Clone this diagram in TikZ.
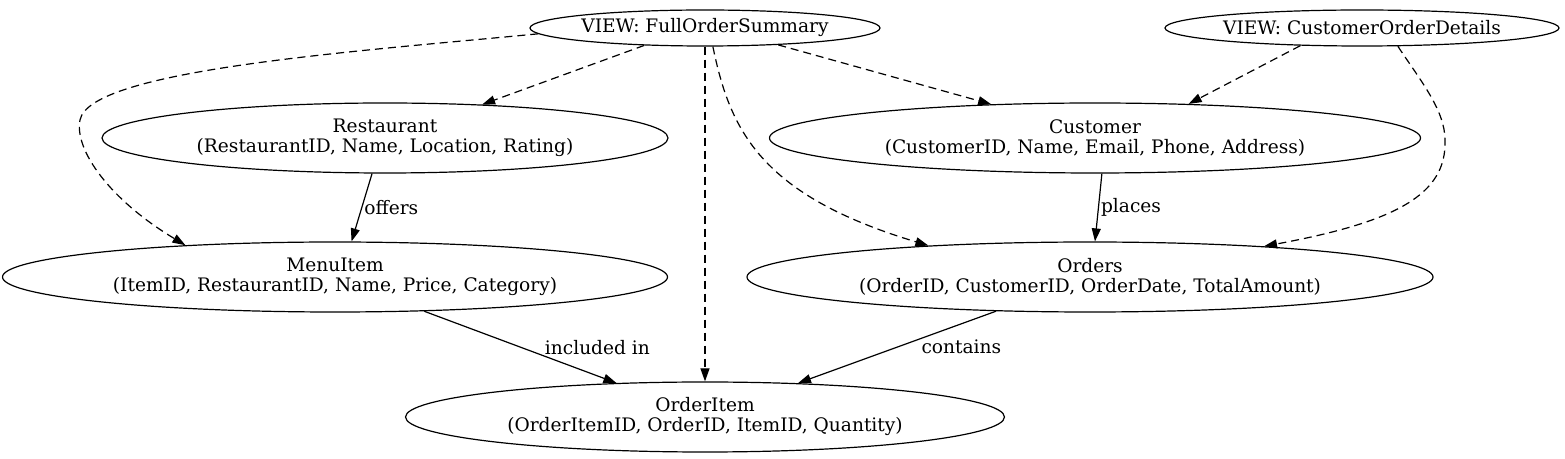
\documentclass[tikz,border=0pt]{standalone}
\usepackage{fontspec}
\setmainfont{DejaVu Serif}
\usetikzlibrary{shapes.geometric,arrows.meta}

\begin{document}
\begin{tikzpicture}[x=0.5pt,y=-0.5pt,
    font=\fontsize{9.3}{10}\selectfont,
    >={Triangle[length=6.5pt,width=4.5pt]},
    line width=0.6pt,
    tbl/.style={draw,ellipse,inner sep=0pt,align=center,minimum height=35pt},
    vw/.style={draw,ellipse,inner sep=0pt,minimum height=18pt},
    dep/.style={->,dash pattern=on 4pt off 2.5pt},
    lbl/.style={anchor=west,inner sep=1pt}]
    \useasboundingbox (0,0) rectangle (1565,459);

    % views
    \node[vw,minimum width=175pt] (fos) at (705,28) {VIEW: FullOrderSummary};
    \node[vw,minimum width=197pt] (cod) at (1362,28) {VIEW: CustomerOrderDetails};

    % tables
    \node[tbl,minimum width=283pt] (rest) at (385,138) {Restaurant\\(RestaurantID, Name, Location, Rating)};
    \node[tbl,minimum width=325.5pt] (cust) at (1095,138) {Customer\\(CustomerID, Name, Email, Phone, Address)};
    \node[tbl,minimum width=332.5pt] (menu) at (335,277) {MenuItem\\(ItemID, RestaurantID, Name, Price, Category)};
    \node[tbl,minimum width=343pt] (ord) at (1090,277) {Orders\\(OrderID, CustomerID, OrderDate, TotalAmount)};
    \node[tbl,minimum width=299.5pt] (oitem) at (705,417) {OrderItem\\(OrderItemID, OrderID, ItemID, Quantity)};

    % relations
    \draw[->] (rest.250) -- node[lbl] (offers) {offers} (menu.65);
    \draw[->] (cust.281) -- node[lbl] (places) {places} (ord.82);
    \draw[->] (menu.339) -- node[lbl,xshift=11pt] (incl) {included in} (oitem.159.4);
    \draw[->] (ord.200.8) -- node[lbl,xshift=11pt] (cont) {contains} (oitem.20.8);

    % view dependencies
    \draw[dep] (fos.196) -- (rest.19.5);
    \draw[dep] (fos.347) -- (cust.162.3);
    \draw[dep] (fos.south) -- (oitem.north);
    \draw[dep] (fos.182.5) .. controls (350,52) and (90,70) .. (80,120)
        .. controls (74,150) and (110,200) .. (menu.168);
    \draw[dep] (fos.293) .. controls (730,130) and (760,195) .. (ord.169);
    \draw[dep] (cod.196.6) -- (cust.20.6);
    \draw[dep] (cod.333) .. controls (1420,80) and (1445,110) .. (1445,140)
        .. controls (1447,195) and (1395,222) .. (ord.10);
\end{tikzpicture}
\end{document}
